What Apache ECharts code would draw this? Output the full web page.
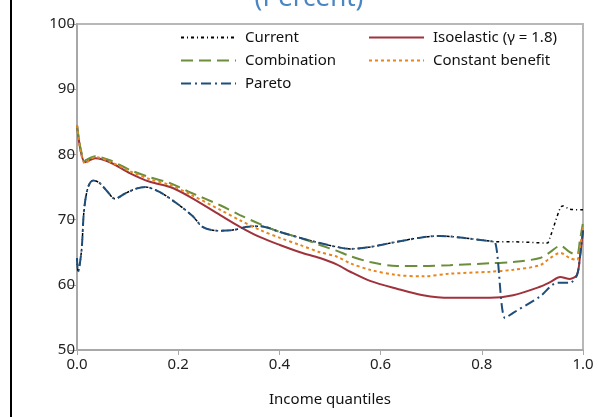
<!DOCTYPE html>
<html><head><meta charset="utf-8">
<script src="https://cdn.jsdelivr.net/npm/echarts@6/dist/echarts.min.js"></script>
<style>html,body{margin:0;padding:0;background:#fff}#c{width:599px;height:417px}</style>
</head><body><div id="c"></div>
<script>
// Shared quantile grid for the smooth policy curves
const qSmooth = [0, 0.016, 0.036, 0.065, 0.105, 0.144, 0.184, 0.223, 0.283, 0.322, 0.362, 0.401, 0.441, 0.480, 0.514, 0.540, 0.579, 0.632, 0.684, 0.737, 0.816, 0.862, 0.915, 0.935, 0.955, 0.974, 0.988, 0.994, 1.0];
const combination = [84.5, 79.1, 79.7, 79.1, 77.6, 76.5, 75.6, 74.2, 72.2, 70.7, 69.3, 68.1, 67.2, 66.1, 65.2, 64.4, 63.5, 62.9, 62.9, 63.0, 63.3, 63.5, 64.1, 65.0, 66.0, 65.0, 64.6, 66.9, 69.5];
const constantBenefit = [84.5, 78.6, 79.6, 78.9, 77.4, 76.2, 75.3, 73.9, 71.5, 69.9, 68.4, 67.2, 66.1, 65.0, 64.3, 63.3, 62.3, 61.5, 61.3, 61.7, 62.0, 62.3, 63.0, 64.1, 64.9, 64.1, 63.8, 65.8, 68.9];
const isoelastic = [84.5, 78.8, 79.4, 78.8, 77.1, 75.8, 75.0, 73.5, 70.7, 68.9, 67.3, 66.1, 65.0, 64.1, 63.1, 62.0, 60.6, 59.4, 58.4, 58.0, 58.0, 58.4, 59.7, 60.4, 61.2, 60.9, 61.5, 64.3, 68.4];

const qCurrent = [0, 0.002, 0.009, 0.014, 0.022, 0.032, 0.045, 0.06, 0.075, 0.095, 0.115, 0.135, 0.164, 0.197, 0.229, 0.248, 0.277, 0.308, 0.336, 0.362, 0.401, 0.441, 0.480, 0.514, 0.540, 0.579, 0.632, 0.684, 0.717, 0.763, 0.816, 0.826, 0.862, 0.929, 0.935, 0.955, 0.960, 0.974, 1.0];
const current = [64.1, 62.0, 65.3, 71.5, 75.0, 76.0, 75.6, 74.3, 73.2, 74.0, 74.7, 75.0, 74.2, 72.5, 70.5, 68.9, 68.3, 68.4, 68.9, 69.0, 68.1, 67.2, 66.4, 65.8, 65.5, 65.8, 66.6, 67.3, 67.5, 67.2, 66.7, 66.6, 66.6, 66.4, 67.3, 71.8, 72.1, 71.6, 71.5];

const qPareto = [0, 0.002, 0.009, 0.014, 0.022, 0.032, 0.045, 0.06, 0.075, 0.095, 0.115, 0.135, 0.164, 0.197, 0.229, 0.248, 0.277, 0.308, 0.336, 0.362, 0.401, 0.441, 0.480, 0.514, 0.540, 0.579, 0.632, 0.684, 0.717, 0.763, 0.816, 0.826, 0.846, 0.862, 0.915, 0.949, 0.974, 0.988, 0.994, 1.0];
const pareto = [64.1, 62.0, 65.3, 71.5, 75.0, 76.0, 75.6, 74.3, 73.2, 74.0, 74.7, 75.0, 74.2, 72.5, 70.5, 68.9, 68.3, 68.4, 68.9, 69.0, 68.1, 67.2, 66.4, 65.8, 65.5, 65.8, 66.6, 67.3, 67.5, 67.2, 66.7, 66.6, 54.9, 55.7, 58.2, 60.3, 60.3, 61.5, 64.3, 68.3];

const xTicks = [0, 0.2, 0.4, 0.6, 0.8, 1.0];
const yTicks = [50, 60, 70, 80, 90, 100];

const FONT = 'Noto Sans';
const pair = (xs, ys) => xs.map((x, i) => [x, ys[i]]);
const hiddenSymbol = {color: 'rgba(0,0,0,0)', borderColor: 'rgba(0,0,0,0)', borderWidth: 0, opacity: 0};

const chart = echarts.init(document.getElementById('c'), null, {renderer: 'canvas'});
chart.setOption({
  animation: false,
  backgroundColor: '#fff',
  textStyle: {fontFamily: FONT},
  graphic: [
    {type: 'rect', left: 10, top: 0, shape: {width: 2, height: 417}, style: {fill: '#000'}, z: 100},
    {type: 'text', x: 309, y: 12, style: {text: '(Percent)', fill: '#4a86c4', font: '26px "Noto Sans"', textAlign: 'center', textVerticalAlign: 'bottom'}}
  ],
  grid: {left: 77, right: 16, top: 24, bottom: 67, show: true, borderColor: '#b8b8b8', borderWidth: 2},
  legend: [
    {data: ['Current', 'Combination', 'Pareto'], orient: 'vertical', left: 180, top: 30, padding: 0, itemWidth: 55, itemHeight: 16, itemGap: 8,
     itemStyle: hiddenSymbol,
     textStyle: {fontFamily: FONT, fontSize: 15, color: '#111', padding: [0, 0, 0, 4]}},
    {data: ['Isoelastic (γ = 1.8)', 'Constant benefit'], orient: 'vertical', left: 368, top: 30, padding: 0, itemWidth: 55, itemHeight: 16, itemGap: 8,
     itemStyle: hiddenSymbol,
     textStyle: {fontFamily: FONT, fontSize: 15, color: '#111', padding: [0, 0, 0, 4]}}
  ],
  xAxis: {
    type: 'value', min: 0, max: 1, interval: 0.2,
    name: 'Income quantiles', nameLocation: 'middle', nameGap: 42,
    nameTextStyle: {fontFamily: FONT, fontSize: 15, color: '#111'},
    axisLine: {show: true, lineStyle: {color: '#a8a8a8', width: 2}},
    axisTick: {show: true, length: 5, lineStyle: {color: '#a8a8a8'}},
    axisLabel: {fontFamily: FONT, fontSize: 15, color: '#222', margin: 7, formatter: v => v.toFixed(1)},
    splitLine: {show: false}
  },
  yAxis: {
    type: 'value', min: 50, max: 100, interval: 10,
    axisLine: {show: true, lineStyle: {color: '#a8a8a8', width: 2}},
    axisTick: {show: true, length: 8, lineStyle: {color: '#a8a8a8'}},
    axisLabel: {fontFamily: FONT, fontSize: 15, color: '#222', margin: 2, padding: [0, 0, 6, 0]},
    splitLine: {show: false}
  },
  series: [
    {name: 'Current', type: 'line', data: pair(qCurrent, current), showSymbol: false, symbol: 'none', smooth: 0.3,
     lineStyle: {color: '#000', width: 1.5, type: [3, 3, 1, 3]}, itemStyle: {color: '#000'}},
    {name: 'Isoelastic (γ = 1.8)', type: 'line', data: pair(qSmooth, isoelastic), showSymbol: false, symbol: 'none', smooth: 0.3,
     lineStyle: {color: '#a0323c', width: 2}, itemStyle: {color: '#a0323c'}},
    {name: 'Combination', type: 'line', data: pair(qSmooth, combination), showSymbol: false, symbol: 'none', smooth: 0.3,
     lineStyle: {color: '#6a8e3a', width: 2, type: [12, 6]}, itemStyle: {color: '#6a8e3a'}},
    {name: 'Constant benefit', type: 'line', data: pair(qSmooth, constantBenefit), showSymbol: false, symbol: 'none', smooth: 0.3,
     lineStyle: {color: '#e8861a', width: 2, type: [3, 3]}, itemStyle: {color: '#e8861a'}},
    {name: 'Pareto', type: 'line', data: pair(qPareto, pareto), showSymbol: false, symbol: 'none', smooth: 0.3,
     lineStyle: {color: '#1f4e7a', width: 2, type: [10, 4, 2, 4]}, itemStyle: {color: '#1f4e7a'}}
  ]
});
</script></body></html>
